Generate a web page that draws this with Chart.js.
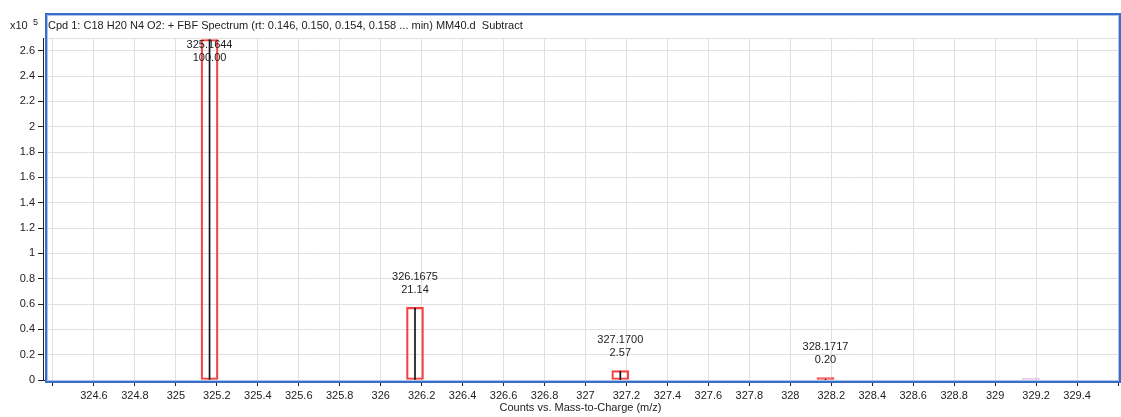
<!DOCTYPE html>
<html>
<head>
<meta charset="utf-8">
<script src="https://cdn.jsdelivr.net/npm/chart.js@4/dist/chart.umd.min.js"></script>
<style>
  html, body { margin: 0; padding: 0; background: #fff; }
  canvas { display: block; }
</style>
</head>
<body>
<canvas id="spec" width="1121" height="417"></canvas>
<script>
// Isotope peaks of the compound (m/z) and their measured relative abundance (%)
const peakMz = [325.1644, 326.1675, 327.1700, 328.1717];
const peakPct = [100.00, 21.14, 2.57, 0.20];
// Base peak height in counts (x10^5)
const basePeak = 2.688;
// Predicted isotope pattern boxes (x10^5 counts)
const predictedMz = [325.1644, 326.1675, 327.1700, 328.1717];
const predictedHeight = [2.688, 0.573, 0.074, 0.02];
// Minor predicted isotope shown in a separate colour
const minorMz = [329.175];
const minorHeight = [0.014];
// Axis tick values
const xTicks = [324.4, 324.6, 324.8, 325.0, 325.2, 325.4, 325.6, 325.8, 326.0, 326.2, 326.4, 326.6,
  326.8, 327.0, 327.2, 327.4, 327.6, 327.8, 328.0, 328.2, 328.4, 328.6, 328.8, 329.0, 329.2, 329.4, 329.6];
const xUnlabeled = [324.4, 329.6];
const yTicks = [0, 0.2, 0.4, 0.6, 0.8, 1.0, 1.2, 1.4, 1.6, 1.8, 2.0, 2.2, 2.4, 2.6, 2.7];
const yUnlabeled = [2.7];

const titleText = 'Cpd 1: C18 H20 N4 O2: + FBF Spectrum (rt: 0.146, 0.150, 0.154, 0.158 ... min) MM40.d  Subtract';
const xTitle = 'Counts vs. Mass-to-Charge (m/z)';
const FONT = '"Liberation Sans", Arial, sans-serif';
const TEXT = '#222';
const RED = 'rgba(245,55,55,0.95)';
const PINK = 'rgba(228,180,228,0.95)';

const measured = peakMz.map((m, i) => ({ x: m, y: basePeak * peakPct[i] / 100 }));
const predicted = predictedMz.map((m, i) => ({ x: m, y: predictedHeight[i] }));
const minor = minorMz.map((m, i) => ({ x: m, y: minorHeight[i] }));

const fmt = v => String(Number(v.toFixed(1)));
const isIn = (arr, v) => arr.some(a => Math.abs(a - v) < 1e-6);
// very short boxes collapse into a solid strip
const boxFill = colour => ctx => (ctx.raw && ctx.raw.y < 0.03) ? colour : 'rgba(0,0,0,0)';

const decor = {
  id: 'decor',
  beforeDraw(chart) {
    const ctx = chart.ctx;
    ctx.save();
    ctx.fillStyle = '#fff';
    ctx.fillRect(0, 0, chart.width, chart.height);
    ctx.restore();
  },
  beforeDatasetsDraw(chart) {
    const ctx = chart.ctx;
    ctx.save();
    // plot frame
    ctx.strokeStyle = '#3b6fc6';
    ctx.lineWidth = 2;
    ctx.strokeRect(46, 14, 1074, 368);
    ctx.strokeStyle = '#aac4ea';
    ctx.lineWidth = 1;
    ctx.strokeRect(47.5, 15.5, 1071, 365);
    ctx.restore();
  },
  afterDatasetsDraw(chart) {
    const ctx = chart.ctx, xs = chart.scales.x, ys = chart.scales.y;
    ctx.save();
    ctx.font = '11px ' + FONT;
    ctx.fillStyle = TEXT;
    ctx.textAlign = 'center';
    ctx.textBaseline = 'middle';
    peakMz.forEach((m, i) => {
      const px = xs.getPixelForValue(m);
      const top = ys.getPixelForValue(Math.max(predictedHeight[i], measured[i].y));
      const l2 = Math.max(top - 17.5, 58);
      ctx.fillText(m.toFixed(4), px, l2 - 13);
      ctx.fillText(peakPct[i].toFixed(2), px, l2);
    });
    ctx.restore();
  },
  afterDraw(chart) {
    const ctx = chart.ctx, ca = chart.chartArea;
    ctx.save();
    // title and exponent
    ctx.fillStyle = TEXT;
    ctx.textBaseline = 'alphabetic';
    ctx.textAlign = 'left';
    ctx.font = '11px ' + FONT;
    ctx.fillText(titleText, 48, 29);
    ctx.fillText('x10', 10, 29);
    ctx.font = '9px ' + FONT;
    ctx.fillText('5', 33, 25);
    // x axis title
    ctx.font = '11px ' + FONT;
    ctx.textAlign = 'center';
    ctx.textBaseline = 'middle';
    ctx.fillText(xTitle, (ca.left + ca.right) / 2, 408);
    ctx.restore();
  }
};

new Chart(document.getElementById('spec'), {
  type: 'bar',
  data: {
    datasets: [
      {
        label: 'Predicted',
        data: predicted,
        grouped: false,
        barThickness: 17,
        backgroundColor: boxFill(RED),
        borderColor: RED,
        borderWidth: 1.5,
        borderSkipped: false,
        order: 2
      },
      {
        label: 'Minor',
        data: minor,
        grouped: false,
        barThickness: 17,
        backgroundColor: boxFill(PINK),
        borderColor: PINK,
        borderWidth: 1,
        borderSkipped: false,
        order: 3
      },
      {
        label: 'Spectrum',
        data: measured,
        grouped: false,
        barThickness: 1,
        backgroundColor: '#111',
        borderWidth: 0,
        order: 1
      }
    ]
  },
  options: {
    responsive: false,
    devicePixelRatio: 1,
    animation: false,
    layout: { padding: { top: 38, right: 3, left: 0, bottom: 0 } },
    plugins: { legend: { display: false }, tooltip: { enabled: false }, title: { display: false } },
    scales: {
      x: {
        type: 'linear',
        offset: false,
        min: 324.3512,
        max: 329.6,
        afterBuildTicks: s => { s.ticks = xTicks.map(v => ({ value: v })); },
        afterFit: s => { s.height = 37; },
        grid: {
          offset: false,
          color: '#e0e0e0',
          lineWidth: 1,
          tickLength: 6,
          tickColor: '#222',
          drawOnChartArea: true
        },
        border: { display: true, color: '#222', width: 1 },
        ticks: {
          autoSkip: false,
          maxRotation: 0,
          padding: 3,
          color: TEXT,
          font: { family: FONT, size: 11 },
          callback: v => isIn(xUnlabeled, v) ? '' : fmt(v)
        }
      },
      y: {
        type: 'linear',
        min: 0,
        max: 2.7,
        afterBuildTicks: s => { s.ticks = yTicks.map(v => ({ value: v })); },
        afterFit: s => { s.width = 43; },
        grid: {
          color: '#e0e0e0',
          lineWidth: 1,
          tickLength: 5,
          tickColor: ctx => (ctx.tick && isIn(yUnlabeled, ctx.tick.value)) ? 'rgba(0,0,0,0)' : '#222'
        },
        border: { display: true, color: '#222', width: 1 },
        ticks: {
          autoSkip: false,
          padding: 3,
          color: TEXT,
          font: { family: FONT, size: 11 },
          callback: v => isIn(yUnlabeled, v) ? '' : fmt(v)
        }
      }
    }
  },
  plugins: [decor]
});
</script>
</body>
</html>
